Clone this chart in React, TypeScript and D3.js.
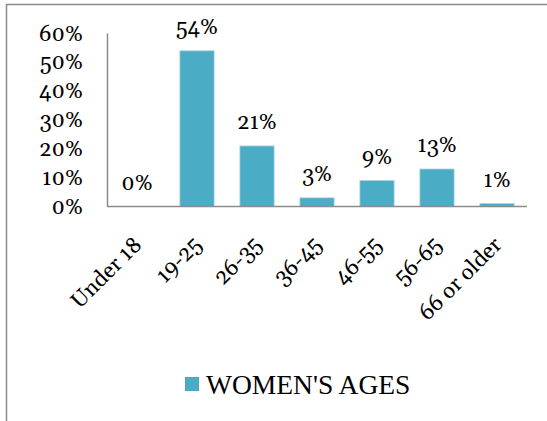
import React from "react";
import * as d3 from "d3";

const categories = ["Under 18", "19-25", "26-35", "36-45", "46-55", "56-65", "66 or older"];
const values = [0, 54, 21, 3, 9, 13, 1];
const yTicks = [0, 10, 20, 30, 40, 50, 60];
const seriesName = "WOMEN'S AGES";

const W = 547;
const H = 421;
const BAR = "#4BACC6";
const AXIS = "#8c8c8c";
const NUMFONT = '"Gelasio"';
const LEGFONT = '"Liberation Serif"';
const numStyle: React.CSSProperties = {
  fontFamily: NUMFONT,
  fontSize: 22,
  fontWeight: 400,
  fontVariantNumeric: "oldstyle-nums",
  fontFeatureSettings: '"onum" 1',
};

export default function App() {
  const x = d3
    .scaleBand<string>()
    .domain(categories)
    .range([107, 527])
    .paddingInner(0.43)
    .paddingOuter(0.215);
  const y = d3.scaleLinear().domain([0, 60]).range([206.5, 33.5]);

  return (
    <svg
      width={W}
      height={H}
      style={{ position: "absolute", left: 0, top: 0, display: "block", background: "#fff" }}
    >
      <rect x={6.5} y={4.5} width={700} height={600} fill="#fff" stroke="#8a8a8a" strokeWidth={1.5} />

      {/* bars */}
      {categories.map((c, i) => {
        const v = values[i];
        const x0 = x(c)!;
        const yTop = y(v);
        return v > 0 ? (
          <rect
            key={c}
            x={x0}
            y={yTop}
            width={x.bandwidth()}
            height={y(0) - yTop}
            fill={BAR}
            stroke="#a6d4e1"
            strokeWidth={0.8}
          />
        ) : null;
      })}

      {/* axes */}
      <line x1={107.5} x2={107.5} y1={y(60)} y2={y(0)} stroke={AXIS} strokeWidth={1.5} />
      <line x1={107} x2={527} y1={y(0)} y2={y(0)} stroke={AXIS} strokeWidth={1.5} />

      {/* y tick labels */}
      {yTicks.map((t) => (
        <text key={t} x={83} y={y(t) + 7} textAnchor="end" style={numStyle} fill="#000">
          {t + "%"}
        </text>
      ))}

      {/* data labels */}
      {categories.map((c, i) => (
        <text
          key={c}
          x={x(c)! + x.bandwidth() / 2}
          y={y(values[i]) - 17}
          textAnchor="middle"
          style={numStyle}
          fill="#000"
        >
          {values[i] + "%"}
        </text>
      ))}

      {/* category labels */}
      {categories.map((c) => {
        const cx = x(c)! + x.bandwidth() / 2 + 6;
        const cy = 246;
        return (
          <text
            key={c}
            transform={`translate(${cx},${cy}) rotate(-45)`}
            textAnchor="end"
            style={numStyle}
            fill="#000"
          >
            {c}
          </text>
        );
      })}

      {/* legend */}
      <rect x={185} y={377} width={14} height={14} fill={BAR} />
      <text x={206} y={394} style={{ fontFamily: LEGFONT, fontSize: 27.5 }} fill="#000">
        {seriesName}
      </text>
    </svg>
  );
}
